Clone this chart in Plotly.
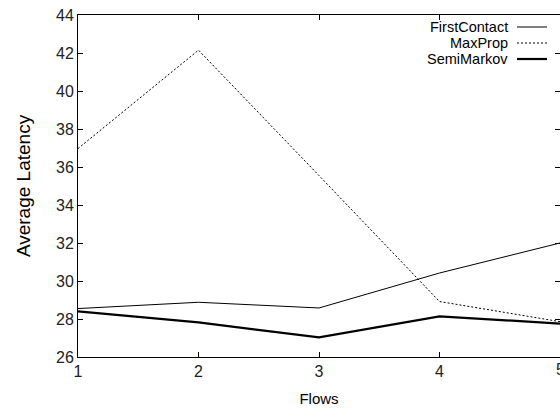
import plotly.graph_objects as go

flows = [1, 2, 3, 4, 5]
first_contact = [28.55, 28.88, 28.58, 30.42, 32.0]
max_prop = [36.97, 42.15, 35.55, 28.92, 27.86]
semi_markov = [28.4, 27.82, 27.03, 28.14, 27.76]

series = [
    ("FirstContact", first_contact, dict(color="black", width=1)),
    ("MaxProp", max_prop, dict(color="black", width=1, dash="2px,2px")),
    ("SemiMarkov", semi_markov, dict(color="black", width=2.2)),
]

fig = go.Figure()
for name, vals, line in series:
    fig.add_trace(go.Scatter(x=flows, y=vals, mode="lines", name=name,
                             line=line, showlegend=False))

# gnuplot-style key: right-aligned labels followed by line samples
plot_l, plot_w, plot_b, plot_h = 78, 482, 357, 342
key_y = [27, 43, 59]
for (name, _, line), ky in zip(series, key_y):
    yp = (plot_b - ky) / plot_h
    fig.add_annotation(x=(510 - plot_l) / plot_w, y=yp, xref="paper", yref="paper",
                       text=name, showarrow=False, xanchor="right", yanchor="middle",
                       font=dict(family="Liberation Sans", size=14.5, color="black"))
    fig.add_shape(type="line", xref="paper", yref="paper",
                  x0=(517 - plot_l) / plot_w, x1=(547 - plot_l) / plot_w,
                  y0=yp, y1=yp, line=line)

tick_font = dict(family="Liberation Sans", size=16, color="#222")
axis_common = dict(showline=True, linecolor="black", linewidth=1, mirror="allticks",
                   ticks="inside", ticklen=5, tickcolor="black", showgrid=False,
                   zeroline=False, tickfont=tick_font)

fig.update_xaxes(range=[1, 5], dtick=1, tick0=1,
                 title=dict(text="Flows", font=dict(family="Liberation Sans", size=15, color="black"),
                            standoff=14),
                 **axis_common)
fig.update_yaxes(range=[26, 44], dtick=2,
                 title=dict(text="Average Latency", font=dict(family="Liberation Sans", size=19, color="black"),
                            standoff=20),
                 **axis_common)

# last x tick label sits on the right edge of the page
fig.add_annotation(x=flows[-1], y=0, xref="x", yref="paper", text=str(flows[-1]),
                   showarrow=False, xanchor="center", yanchor="top", yshift=-2,
                   font=tick_font)

fig.update_layout(width=560, height=411, plot_bgcolor="white", paper_bgcolor="white",
                  margin=dict(l=plot_l, r=560 - plot_l - plot_w, t=15, b=411 - plot_b))

fig.write_html("out.html")
